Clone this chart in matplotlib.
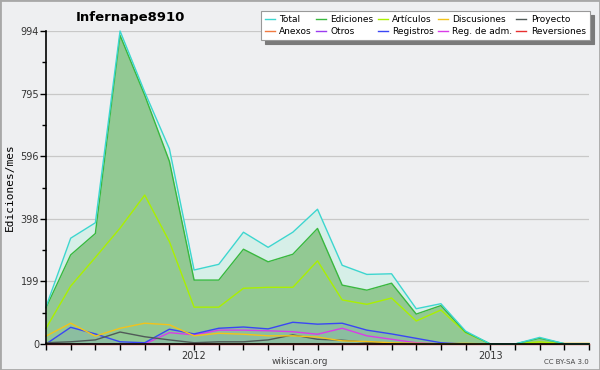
import matplotlib
matplotlib.use("Agg")
import matplotlib.pyplot as plt
from matplotlib.patches import Rectangle
from matplotlib.ticker import FixedLocator

months = ["2011-07", "2011-08", "2011-09", "2011-10", "2011-11", "2011-12",
          "2012-01", "2012-02", "2012-03", "2012-04", "2012-05", "2012-06",
          "2012-07", "2012-08", "2012-09", "2012-10", "2012-11", "2012-12",
          "2013-01", "2013-02", "2013-03", "2013-04", "2013-05"]
year_labels = {"2012-01": "2012", "2013-01": "2013"}

total       = [118, 336, 385, 994, 800, 620, 235, 253, 355, 307, 355, 428, 250, 221, 223, 112, 128, 41, 0, 0, 21, 1, 1]
ediciones   = [115, 283, 351, 980, 790, 580, 203, 203, 301, 261, 285, 367, 187, 171, 193, 95, 122, 38, 0, 0, 18, 1, 1]
articulos   = [50, 184, 275, 368, 473, 325, 117, 117, 177, 180, 180, 264, 140, 126, 146, 73, 108, 36, 0, 0, 7, 0, 0]
discusiones = [25, 66, 25, 50, 66, 61, 26, 34, 31, 26, 26, 22, 10, 8, 4, 2, 1, 2, 0, 0, 3, 2, 2]
proyecto    = [4, 7, 13, 38, 23, 13, 4, 7, 7, 13, 29, 15, 12, 6, 3, 1, 0, 0, 0, 0, 0, 0, 0]
anexos      = [0, 0, 0, 0, 0, 0, 1, 1, 1, 1, 1, 1, 1, 1, 1, 0, 0, 0, 0, 0, 0, 0, 0]
otros       = [0, 0, 0, 0, 0, 0, 1, 1, 1, 1, 1, 1, 1, 1, 0, 0, 0, 0, 0, 0, 0, 0, 0]
registros   = [0, 53, 32, 7, 4, 47, 32, 50, 54, 48, 69, 63, 66, 44, 32, 18, 4, 0, 0, 0, 0, 0, 0]
reg_adm     = [0, 0, 0, 0, 0, 36, 29, 44, 44, 42, 39, 31, 50, 26, 15, 4, 0, 0, 0, 0, 0, 0, 0]
reversiones = [0, 0, 0, 0, 0, 0, 0, 0, 0, 0, 0, 0, 0, 0, 0, 0, 0, 0, 0, 0, 0, 0, 0]

yticks = [0, 199, 398, 596, 795, 994]

bg = "#eeeff1"
fig = plt.figure(figsize=(6.0, 3.7), dpi=100, facecolor=bg)
ax = fig.add_axes([46/600, 1-344/370, (589-46)/600, (344-31)/370])
ax.set_facecolor(bg)

x = list(range(len(months)))

ax.fill_between(x, 0, total, color="#d6efe8", zorder=1, lw=0)
ax.fill_between(x, 0, ediciones, color="#92c993", zorder=2, lw=0)
ax.fill_between(x, 0, registros, color="#6f8fe0", alpha=0.18, zorder=3, lw=0)

series = [
    ("Total", total, "#3dd6cf"),
    ("Ediciones", ediciones, "#39b83f"),
    ("Artículos", articulos, "#aaf000"),
    ("Discusiones", discusiones, "#f2c31b"),
    ("Proyecto", proyecto, "#505a58"),
    ("Anexos", anexos, "#f07a40"),
    ("Otros", otros, "#9b3cf0"),
    ("Registros", registros, "#3a46f5"),
    ("Reg. de adm.", reg_adm, "#d93ce8"),
    ("Reversiones", reversiones, "#e83030"),
]
handles = {}
for i, (name, vals, col) in enumerate(series):
    (h,) = ax.plot(x, vals, color=col, lw=1.0, zorder=15 - i * 0.1, clip_on=False, label=name)
    handles[name] = h

ax.set_xlim(0, len(months) - 1)
ax.set_ylim(0, 994)

ax.yaxis.set_major_locator(FixedLocator(yticks))
minors = [(yticks[i] + yticks[i + 1]) / 2 for i in range(len(yticks) - 1)]
ax.yaxis.set_minor_locator(FixedLocator(minors))
ax.set_yticklabels([str(v) for v in yticks])
ax.set_xticks(x)
ax.set_xticklabels([year_labels.get(m, "") for m in months])

ax.tick_params(axis="y", which="major", length=4, width=1, color="black", labelsize=7, labelcolor="#333333", pad=1)
ax.tick_params(axis="y", which="minor", length=3, width=1, color="black")
ax.tick_params(axis="x", which="major", length=4, width=1, color="black", labelsize=7, labelcolor="#333333", pad=1)

for y in yticks[1:]:
    ax.axhline(y, color="#c8c8c8", lw=0.9, zorder=0)

for s in ["top", "right"]:
    ax.spines[s].set_visible(False)
for s in ["left", "bottom"]:
    ax.spines[s].set_color("black")
    ax.spines[s].set_linewidth(1.2)
    ax.spines[s].set_zorder(20)

ax.set_ylabel("Ediciones/mes", fontsize=8, family="DejaVu Sans Mono", labelpad=4)

fig.text(130/600, 1-18/370, "Infernape8910", ha="center", va="center", fontsize=9.5, fontweight="bold")
fig.text(300/600, 1-361/370, "wikiscan.org", ha="center", va="center", fontsize=6.5, color="#444444")
fig.text(589/600, 1-362/370, "CC BY-SA 3.0", ha="right", va="center", fontsize=5, color="#444444")

order = ["Total", "Anexos", "Ediciones", "Otros", "Artículos", "Registros",
         "Discusiones", "Reg. de adm.", "Proyecto", "Reversiones"]
leg = fig.legend([handles[n] for n in order], order, ncol=5, loc="upper right",
                 bbox_to_anchor=(590/600, 1-11/370), fontsize=6.5, frameon=True,
                 fancybox=False, shadow={"color": "#7a7a7a", "alpha": 1, "ox": 3, "oy": -3},
                 handlelength=1.1, handletextpad=0.5, columnspacing=0.45,
                 labelspacing=0.3, borderpad=0.45, borderaxespad=0)
leg.get_frame().set_edgecolor("#999999")
leg.get_frame().set_linewidth(0.8)
leg.get_frame().set_facecolor("white")

fig.patches.append(Rectangle((0, 0), 1, 1, transform=fig.transFigure, fill=False,
                             edgecolor="#a8a8a8", lw=2, zorder=100))

fig.savefig("out.png", dpi=100, facecolor=bg)
